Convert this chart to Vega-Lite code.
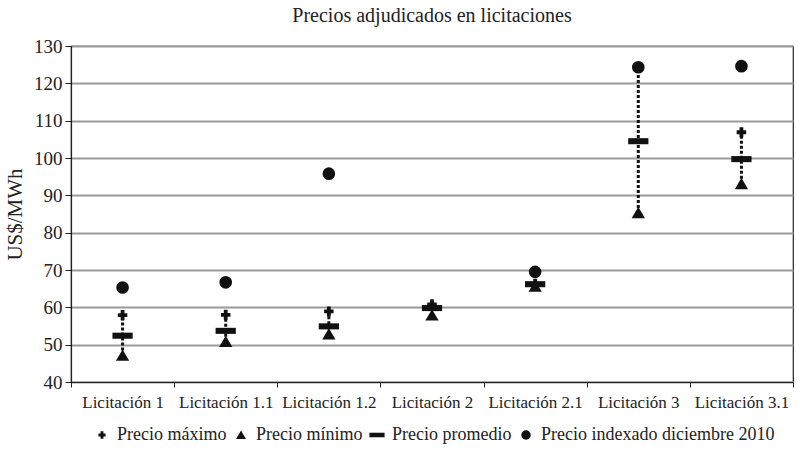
{
  "$schema": "https://vega.github.io/schema/vega-lite/v6.json",
  "width": 722,
  "height": 336,
  "autosize": {"type": "none"},
  "padding": {"left": 71, "top": 46, "right": 7, "bottom": 75},
  "background": "white",
  "config": {
    "font": "Liberation Serif",
    "view": {"stroke": "#222", "strokeWidth": 1.2},
    "axis": {"labelFont": "Liberation Serif", "titleFont": "Liberation Serif", "labelColor": "#222", "titleColor": "#222", "domainColor": "#222", "tickColor": "#222"},
    "legend": {"labelFont": "Liberation Serif"}
  },
  "title": {"text": "Precios adjudicados en licitaciones", "fontSize": 20, "fontWeight": "normal", "font": "Liberation Serif", "color": "#222", "offset": 11},
  "data": {
    "values": [
      {"lic": "Licitación 1", "Precio máximo": 57.9, "Precio mínimo": 47.1, "Precio promedio": 52.4, "Precio indexado diciembre 2010": 65.3},
      {"lic": "Licitación 1.1", "Precio máximo": 58.0, "Precio mínimo": 50.8, "Precio promedio": 53.7, "Precio indexado diciembre 2010": 66.7},
      {"lic": "Licitación 1.2", "Precio máximo": 58.9, "Precio mínimo": 52.8, "Precio promedio": 54.9, "Precio indexado diciembre 2010": 95.8},
      {"lic": "Licitación 2", "Precio máximo": 60.8, "Precio mínimo": 57.9, "Precio promedio": 59.8, "Precio indexado diciembre 2010": null},
      {"lic": "Licitación 2.1", "Precio máximo": 66.3, "Precio mínimo": 65.6, "Precio promedio": 66.2, "Precio indexado diciembre 2010": 69.5},
      {"lic": "Licitación 3", "Precio máximo": 124.2, "Precio mínimo": 85.3, "Precio promedio": 104.5, "Precio indexado diciembre 2010": 124.3},
      {"lic": "Licitación 3.1", "Precio máximo": 106.9, "Precio mínimo": 93.1, "Precio promedio": 99.7, "Precio indexado diciembre 2010": 124.6}
    ]
  },
  "encoding": {
    "x": {
      "field": "lic", "type": "nominal", "sort": null,
      "scale": {"paddingInner": 0, "paddingOuter": 0},
      "axis": {"title": null, "labelAngle": 0, "labelFont": "Liberation Serif", "labelFontSize": 17, "tickBand": "extent", "tickSize": 5, "labelPadding": 7, "domainWidth": 1.2, "grid": false}
    }
  },
  "layer": [
    {
      "mark": {"type": "rule", "color": "#111", "strokeWidth": 3, "strokeDash": [3, 2]},
      "encoding": {
        "y": {
          "field": "Precio mínimo", "type": "quantitative",
          "scale": {"domain": [40, 130], "nice": false, "zero": false},
          "axis": {"title": "US$/MWh", "titleFont": "Liberation Serif", "labelFont": "Liberation Serif", "titleFontSize": 21, "titleFontWeight": "normal", "titlePadding": 8, "labelFontSize": 19, "values": [40, 50, 60, 70, 80, 90, 100, 110, 120, 130], "tickSize": 6, "labelPadding": 3, "grid": true, "gridColor": "#9a9a9a", "gridWidth": 2, "domainWidth": 1.2}
        },
        "y2": {"field": "Precio máximo"}
      }
    },
    {
      "transform": [
        {"fold": ["Precio máximo", "Precio mínimo", "Precio promedio", "Precio indexado diciembre 2010"], "as": ["serie", "valor"]},
        {"filter": "datum.valor != null"}
      ],
      "mark": {"type": "point", "filled": true, "opacity": 1, "color": "#111", "strokeWidth": 0, "size": 160},
      "encoding": {
        "y": {
          "field": "valor", "type": "quantitative",
          "scale": {"domain": [40, 130], "nice": false, "zero": false},
          "axis": {"title": "US$/MWh", "titleFont": "Liberation Serif", "labelFont": "Liberation Serif", "titleFontSize": 21, "titleFontWeight": "normal", "titlePadding": 8, "labelFontSize": 19, "values": [40, 50, 60, 70, 80, 90, 100, 110, 120, 130], "tickSize": 6, "labelPadding": 3, "grid": true, "gridColor": "#9a9a9a", "gridWidth": 2, "domainWidth": 1.2}
        },
        "shape": {
          "field": "serie", "type": "nominal",
          "scale": {
            "domain": ["Precio máximo", "Precio mínimo", "Precio promedio", "Precio indexado diciembre 2010"],
            "range": [
              "M-0.3,-0.8H0.3V-0.3H0.75V0.3H0.3V0.8H-0.3V0.3H-0.75V-0.3H-0.3Z",
              "M0,-0.95L1.05,0.85H-1.05Z",
              "M-1.6,-0.48H1.6V0.48H-1.6Z",
              "circle"
            ]
          },
          "legend": {"title": null, "orient": "none", "direction": "horizontal", "legendX": 22, "legendY": 380, "labelFont": "Liberation Serif", "labelFontSize": 18, "labelLimit": 400, "labelColor": "#222", "symbolSize": 90, "symbolFillColor": "#111", "symbolStrokeWidth": 0, "columnPadding": 5, "labelOffset": 6}
        }
      }
    }
  ]
}
